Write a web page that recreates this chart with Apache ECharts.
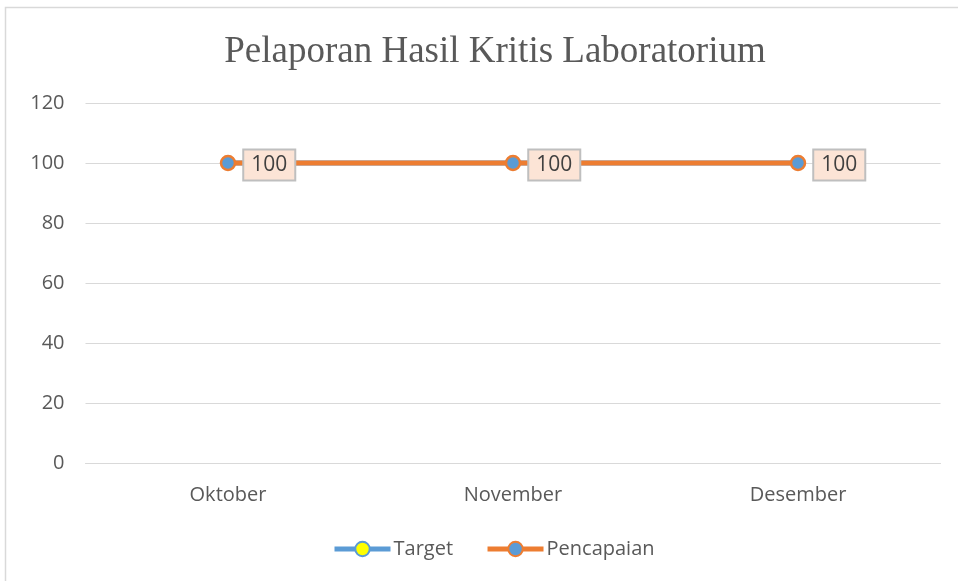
<!DOCTYPE html>
<html>
<head>
<meta charset="utf-8">
<script src="https://cdn.jsdelivr.net/npm/echarts@6/dist/echarts.min.js"></script>
<style>
  html, body { margin: 0; padding: 0; background: #fff; }
  #chart { width: 958px; height: 581px; }
</style>
</head>
<body>
<div id="chart"></div>
<script>
// data
const months = ['Oktober', 'November', 'Desember']
const target = [100, 100, 100]
const pencapaian = [100, 100, 100]
const yTicks = [0, 20, 40, 60, 80, 100, 120]

const chart = echarts.init(document.getElementById('chart'))

chart.setOption({
  animation: false,
  backgroundColor: '#fff',
  graphic: [{
    type: 'rect',
    shape: { x: 5.5, y: 7.5, width: 970, height: 590 },
    style: { fill: 'none', stroke: '#d9d9d9', lineWidth: 1.5 },
    silent: true
  }],
  title: {
    text: 'Pelaporan Hasil Kritis Laboratorium',
    left: 490,
    textAlign: 'center',
    top: 29,
    textStyle: {
      fontFamily: 'Liberation Serif',
      fontWeight: 'normal',
      fontSize: 37,
      color: '#595959'
    }
  },
  legend: {
    top: 534,
    left: 327,
    itemWidth: 56,
    itemHeight: 18,
    itemGap: 32,
    lineStyle: { width: 5 },
    textStyle: { fontFamily: 'Open Sans', fontSize: 20, color: '#595959', padding: [0, 0, 0, -2] },
    data: ['Target', 'Pencapaian']
  },
  grid: { left: 85.5, right: 17.5, top: 103, bottom: 118 },
  xAxis: {
    type: 'category',
    data: months,
    axisLine: { lineStyle: { color: '#d9d9d9', width: 1 } },
    axisTick: { show: false },
    axisLabel: { fontFamily: 'Open Sans', fontSize: 20, color: '#595959', margin: 22 }
  },
  yAxis: {
    type: 'value',
    min: yTicks[0],
    max: yTicks[yTicks.length - 1],
    interval: 20,
    axisLine: { show: false },
    axisTick: { show: false },
    splitLine: { lineStyle: { color: '#d9d9d9', width: 1 } },
    axisLabel: { fontFamily: 'Open Sans', fontSize: 20, color: '#595959', margin: 21 }
  },
  series: [{
    name: 'Target',
    type: 'line',
    data: target,
    symbol: 'circle',
    symbolSize: 13,
    lineStyle: { color: '#5b9bd5', width: 5 },
    itemStyle: { color: '#ffff00', borderColor: '#5b9bd5', borderWidth: 2 }
  }, {
    name: 'Pencapaian',
    type: 'line',
    data: pencapaian,
    symbol: 'circle',
    symbolSize: 14,
    lineStyle: { color: '#ed7d31', width: 5 },
    itemStyle: { color: '#5b9bd5', borderColor: '#ed7d31', borderWidth: 2.5 },
    label: {
      show: true,
      position: 'right',
      distance: 8,
      offset: [0, 2],
      fontFamily: 'Open Sans',
      fontSize: 21,
      color: '#404040',
      backgroundColor: '#fce4d6',
      borderColor: '#bfbfbf',
      borderWidth: 2,
      padding: [5, 7, 3, 7]
    }
  }]
})
</script>
</body>
</html>
